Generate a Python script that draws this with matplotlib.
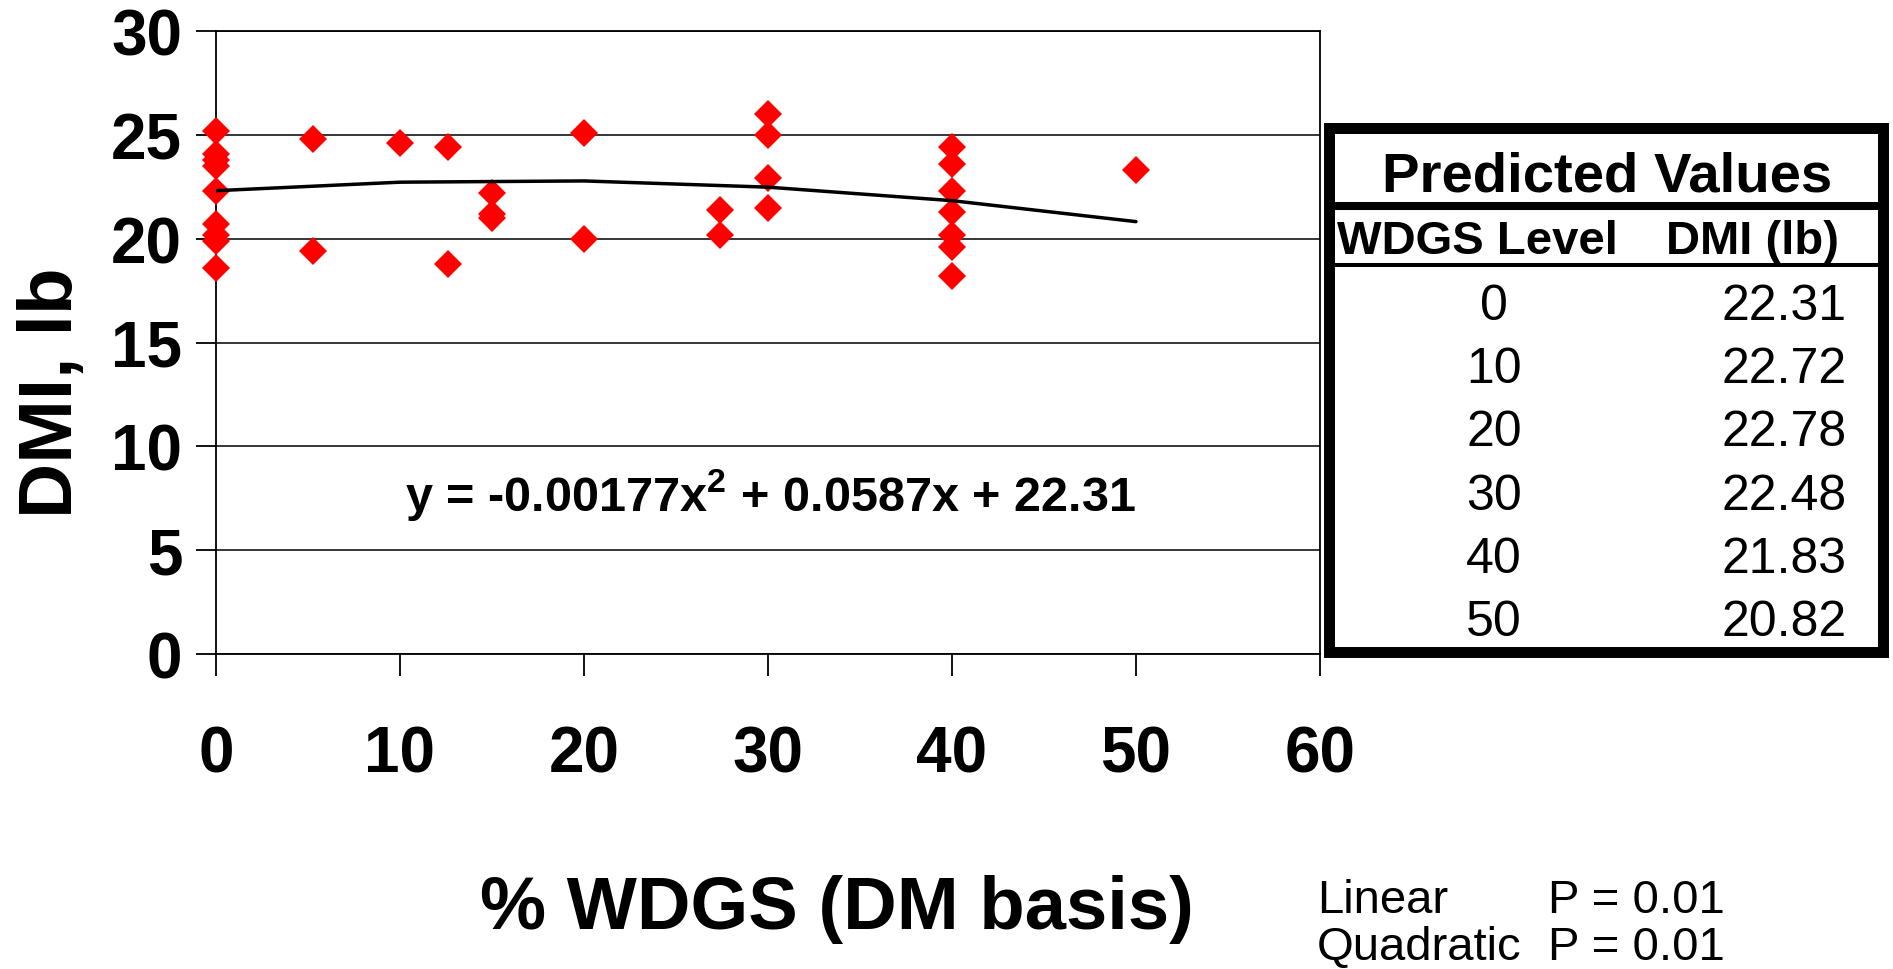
import matplotlib
matplotlib.use("Agg")
import matplotlib.pyplot as plt
from matplotlib.patches import Rectangle
from matplotlib.lines import Line2D

# ---------------- data ----------------
wdgs_pct = [0, 0, 0, 0, 0, 0, 0, 0, 0,
            5.25, 5.25,
            10,
            12.6, 12.6,
            15, 15, 15,
            20, 20,
            27.4, 27.4,
            30, 30, 30, 30,
            40, 40, 40, 40, 40, 40, 40,
            50]
dmi_lb = [25.2, 24.1, 23.8, 23.5, 22.3, 20.7, 20.2, 19.9, 18.6,
          24.8, 19.4,
          24.6,
          24.4, 18.8,
          22.2, 21.2, 21.0,
          25.1, 20.0,
          21.4, 20.2,
          26.0, 25.0, 22.9, 21.5,
          24.4, 23.6, 22.3, 21.3, 20.2, 19.6, 18.2,
          23.3]

pred_level = [0, 10, 20, 30, 40, 50]
pred_dmi = [22.31, 22.72, 22.78, 22.48, 21.83, 20.82]

x_ticks = [0, 10, 20, 30, 40, 50, 60]
y_ticks = [0, 5, 10, 15, 20, 25, 30]

equation = r"y = -0.00177x$^{\mathbf{2}}$ + 0.0587x + 22.31"
x_label = "% WDGS (DM basis)"
y_label = "DMI, lb"
table_title = "Predicted Values"
table_headers = ["WDGS Level", "DMI (lb)"]
stats_names = ["Linear", "Quadratic"]
stats_p = ["P = 0.01", "P = 0.01"]

# ---------------- figure ----------------
plt.rcParams["font.family"] = ["Liberation Sans", "DejaVu Sans"]
plt.rcParams["mathtext.fontset"] = "custom"
plt.rcParams["mathtext.rm"] = "Liberation Sans:bold"
plt.rcParams["mathtext.bf"] = "Liberation Sans:bold"

W, H = 1893, 970
fig = plt.figure(figsize=(W / 100, H / 100), dpi=100)


def fx(px):
    return px / W


def fy(py):
    return 1 - py / H


L, R, T, B = 216, 1320, 32, 655
ax = fig.add_axes([fx(L), fy(B), fx(R) - fx(L), fy(T) - fy(B)])
ax.set_xlim(0, 60)
ax.set_ylim(0, 30)
ax.set_xticks(x_ticks)
ax.set_yticks(y_ticks)
ax.set_axisbelow(True)
ax.yaxis.grid(True, color="black", linewidth=1.1)
for s in ax.spines.values():
    s.set_linewidth(1.3)
    s.set_color("black")
ax.tick_params(axis="y", direction="out", length=14.4, width=1.3, pad=10,
               labelsize=46)
ax.tick_params(axis="x", direction="out", length=16, width=1.3, pad=35,
               labelsize=46)
for lab in ax.get_xticklabels() + ax.get_yticklabels():
    lab.set_fontweight("bold")

ax.plot(wdgs_pct, dmi_lb, linestyle="none", marker="D", markersize=14.5,
        color="#ff0000", markeredgewidth=0, clip_on=False, zorder=3)
ax.plot(pred_level, pred_dmi, color="black", linewidth=2.5, zorder=4,
        solid_capstyle="round")

# equation
fig.text(fx(771), fy(512), equation, ha="center", va="baseline",
         fontsize=35, fontweight="bold")

# axis labels
fig.text(fx(837), fy(929), x_label, ha="center", va="baseline",
         fontsize=53.5, fontweight="bold")
fig.text(fx(52), fy(393), y_label, ha="center", va="center", rotation=90,
         fontsize=55, fontweight="bold")

# ---------------- table overlay ----------------
ov = fig.add_axes([0, 0, 1, 1], zorder=5)
ov.set_xlim(0, W)
ov.set_ylim(H, 0)
ov.axis("off")

ov.add_patch(Rectangle((1329, 129), 1882.5 - 1329, 652.5 - 129,
                       facecolor="white", edgecolor="black", linewidth=7.9))
ov.add_line(Line2D([1334, 1877], [207, 207], color="black", linewidth=5.8))
ov.add_line(Line2D([1334, 1877], [266, 266], color="black", linewidth=2.9))

ov.text(1607, 192, table_title, ha="center", va="baseline", fontsize=40.5,
        fontweight="bold")
ov.text(1337, 254, table_headers[0], ha="left", va="baseline", fontsize=34,
        fontweight="bold")
ov.text(1839, 254, table_headers[1], ha="right", va="baseline", fontsize=34,
        fontweight="bold")
for i, (lv, dv) in enumerate(zip(pred_level, pred_dmi)):
    base = 320 + i * 63.2
    ov.text(1494, base, f"{lv}", ha="center", va="baseline", fontsize=36)
    ov.text(1847, base, f"{dv:.2f}", ha="right", va="baseline", fontsize=36)

for i, (nm, pv) in enumerate(zip(stats_names, stats_p)):
    base = 913 + i * 47
    ov.text(1317, base, nm, ha="left", va="baseline", fontsize=34)
    ov.text(1548, base, pv, ha="left", va="baseline", fontsize=34)

fig.savefig("out.png", dpi=100)
